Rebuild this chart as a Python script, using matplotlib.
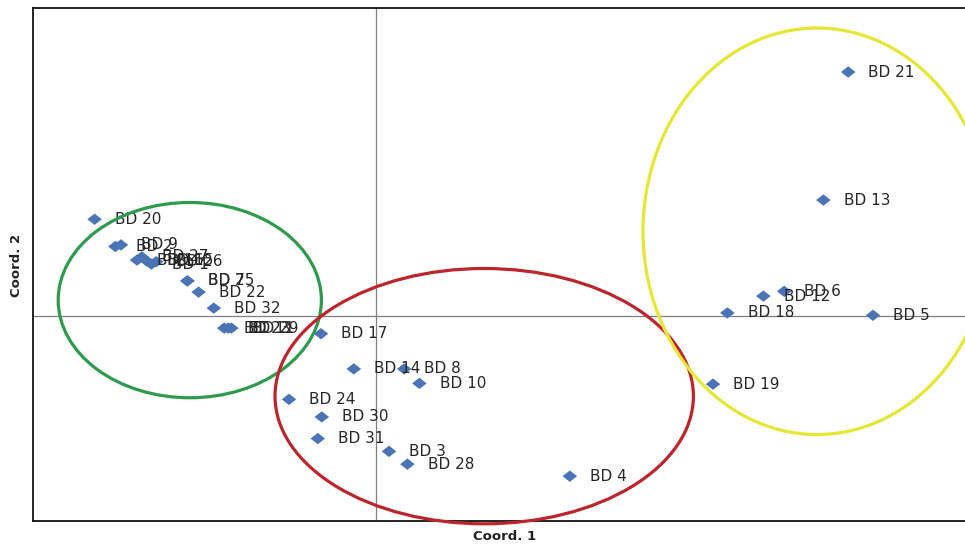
import matplotlib
matplotlib.use("Agg")
import matplotlib.pyplot as plt
from matplotlib.patches import Ellipse
from matplotlib.path import Path

# PCoA scores (Coord. 1, Coord. 2) for each accession
labels = ["BD 20", "BD 2", "BD 9", "BD 16", "BD 27", "BD 15", "BD 1", "BD 26",
          "BD 7", "BD 25", "BD 22", "BD 32", "BD 23", "BD 11", "BD 29",
          "BD 17", "BD 14", "BD 8", "BD 10", "BD 24", "BD 30", "BD 31", "BD 3",
          "BD 28", "BD 4",
          "BD 21", "BD 13", "BD 6", "BD 12", "BD 18", "BD 5", "BD 19"]
coord1 = [-0.352, -0.326, -0.319, -0.299, -0.293, -0.287, -0.281, -0.275,
          -0.236, -0.236, -0.222, -0.203, -0.190, -0.185, -0.181,
          -0.069, -0.028, 0.035, 0.054, -0.109, -0.068, -0.073, 0.016,
          0.039, 0.242,
          0.590, 0.559, 0.510, 0.484, 0.439, 0.621, 0.421]
coord2 = [0.121, 0.087, 0.089, 0.070, 0.074, 0.069, 0.065, 0.068,
          0.044, 0.044, 0.030, 0.010, -0.015, -0.015, -0.015,
          -0.022, -0.066, -0.066, -0.084, -0.104, -0.126, -0.153, -0.169,
          -0.185, -0.200,
          0.305, 0.145, 0.031, 0.025, 0.004, 0.001, -0.085]

# Cluster outlines: centre x, centre y, width, height, colour
groups_cx = [-0.233, 0.135, 0.551]
groups_cy = [0.020, -0.100, 0.106]
groups_w = [0.329, 0.523, 0.435]
groups_h = [0.244, 0.319, 0.508]
groups_color = ["#2e9a4e", "#bc252c", "#e6e634"]

# slightly flattened diamond marker
diamond = Path([(-1.0, 0.0), (0.0, 0.78), (1.0, 0.0), (0.0, -0.78), (-1.0, 0.0)],
               [Path.MOVETO, Path.LINETO, Path.LINETO, Path.LINETO, Path.CLOSEPOLY])

fig = plt.figure(figsize=(9.65, 5.46), dpi=100)
ax = fig.add_axes([33 / 965, 25 / 546, 1 - 33 / 965, 513 / 546])

ax.set_xlim(-0.429, 0.736)
ax.set_ylim(-0.256, 0.385)

ax.axhline(0, color="#7f7f7f", lw=0.9, zorder=1)
ax.axvline(0, color="#7f7f7f", lw=0.9, zorder=1)

ax.scatter(coord1, coord2, marker=diamond, s=110, color="#4a74b6",
           edgecolors="none", zorder=3)
for name, x, y in zip(labels, coord1, coord2):
    ax.annotate(name, (x, y), xytext=(14.5, 0), textcoords="offset points",
                va="center", ha="left", fontsize=11, color="#262626",
                family="DejaVu Sans", zorder=4)

for cx, cy, w, h, c in zip(groups_cx, groups_cy, groups_w, groups_h, groups_color):
    ax.add_patch(Ellipse((cx, cy), w, h, fill=False, edgecolor=c, lw=2.3,
                         zorder=5, clip_on=False))

ax.set_xticks([])
ax.set_yticks([])
for side in ("left", "top", "bottom"):
    ax.spines[side].set_linewidth(1.3)
    ax.spines[side].set_color("#111111")
ax.spines["right"].set_visible(False)

fig.text(505 / 965, 1 - 537 / 546, "Coord. 1", ha="center", va="center",
         fontsize=9.5, fontweight="bold", color="#222222")
fig.text(17 / 965, 1 - 265 / 546, "Coord. 2", ha="center", va="center",
         rotation=90, fontsize=9.5, fontweight="bold", color="#222222")

fig.savefig("out.png", dpi=100)
